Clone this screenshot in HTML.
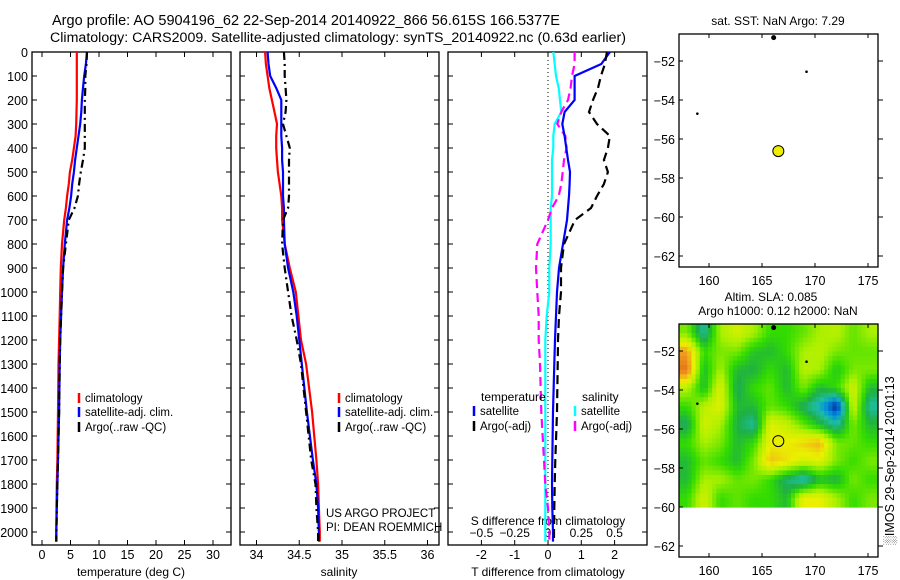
<!DOCTYPE html>
<html><head><meta charset="utf-8"><style>
body{margin:0;background:#fff;}
svg{display:block;font-family:"Liberation Sans",sans-serif;}
</style></head><body>
<svg id="fig" width="900" height="580" xmlns="http://www.w3.org/2000/svg">
<text x="52" y="25" font-size="14.5">Argo profile: AO 5904196_62 22-Sep-2014 20140922_866 56.615S 166.5377E</text>
<text x="50" y="42" font-size="14.2" textLength="576">Climatology: CARS2009. Satellite-adjusted climatology: synTS_20140922.nc (0.63d earlier)</text>
<g id="g"></g>
</svg>
<script>
const depths=[0,50,100,150,200,250,300,350,400,450,500,550,600,650,700,800,900,1000,1100,1200,1300,1500,1700,1800,1900,2000,2040];
const tClim=[6.1,6.1,6.1,6.1,6.1,6.05,6.0,5.9,5.6,5.3,4.9,4.7,4.4,4.2,3.9,3.5,3.3,3.2,3.1,3.0,2.9,2.8,2.7,2.6,2.55,2.5,2.5];
const tSat=[7.9,7.7,7.4,7.2,7.0,6.9,6.7,6.4,6.1,5.8,5.6,5.3,5.1,4.8,4.4,4.0,3.7,3.5,3.35,3.2,3.1,3.0,2.8,2.7,2.6,2.5,2.5];
const tArgo=[7.9,7.8,7.6,7.6,7.5,7.5,7.5,7.5,7.5,7.2,6.8,6.5,6.3,5.7,4.7,4.2,3.7,3.5,3.35,3.2,3.1,3.0,2.8,2.7,2.6,2.55,2.5];
const sClim=[34.1,34.11,34.13,34.15,34.18,34.21,34.24,34.23,34.23,34.24,34.25,34.27,34.29,34.3,34.3,34.33,34.39,34.46,34.49,34.52,34.58,34.65,34.70,34.72,34.73,34.74,34.74];
const sSat=[34.13,34.14,34.16,34.23,34.29,34.29,34.29,34.29,34.3,34.3,34.31,34.31,34.31,34.32,34.32,34.33,34.37,34.43,34.47,34.5,34.53,34.59,34.66,34.7,34.72,34.73,34.73];
const sArgo=[34.32,34.33,34.33,34.34,34.35,34.34,34.31,34.35,34.39,34.38,34.38,34.38,34.38,34.37,34.31,34.3,34.33,34.37,34.41,34.47,34.52,34.58,34.64,34.69,34.7,34.72,34.72];
const dtSat=[1.86,1.6,0.8,0.8,0.8,0.5,0.43,0.5,0.55,0.6,0.66,0.65,0.63,0.6,0.57,0.45,0.33,0.27,0.24,0.21,0.19,0.15,0.13,0.12,0.13,0.15,0.15];
const dtArgo=[1.77,1.71,1.59,1.5,1.35,1.23,1.47,1.86,1.8,1.68,1.8,1.68,1.47,1.29,0.81,0.48,0.39,0.39,0.33,0.3,0.29,0.27,0.22,0.2,0.19,0.18,0.18];
const dsSat=[0.04,0.05,0.06,0.08,0.09,0.1,0.05,0.04,0.04,0.03,0.03,0.03,0.03,0.02,0.02,0.02,0.01,0.01,-0.01,-0.02,-0.02,-0.02,-0.02,-0.02,-0.02,-0.02,-0.02];
const dsArgo=[0.2,0.2,0.18,0.17,0.15,0.1,0.07,0.13,0.14,0.12,0.11,0.1,0.08,0.03,0.0,-0.08,-0.09,-0.08,-0.07,-0.07,-0.06,-0.05,-0.03,-0.02,0.0,0.01,0.01];
const depthTicks=[0,100,200,300,400,500,600,700,800,900,1000,1100,1200,1300,1400,1500,1600,1700,1800,1900,2000];
const tTicks=[0,5,10,15,20,25,30];
const sTicks=[34,34.5,35,35.5,36];
const sTickLabels=["34","34.5","35","35.5","36"];
const dtTicks=[-2,-1,0,1,2];
const dsTicks=[-0.5,-0.25,0,0.25,0.5];
const dsTickLabels=["\u22120.5","\u22120.25","0","0.25","0.5"];
const lonTicks=[160,165,170,175];
const latTicks=[-52,-54,-56,-58,-60,-62];
const dots=[[166.1,-50.8],[169.2,-52.55],[158.9,-54.7]];
const argoPos=[166.54,-56.62];
const sla=[
[0.3,-0.8,0.5,0.8,0.5,0,0,0.2,0.5,0.6,0.2,0.5],
[1.5,0,0.3,0.3,-0.2,-0.3,0,0.5,0.6,0.3,0.2,0.2],
[1.8,-0.3,0.5,-0.3,-0.4,0,-0.3,0.6,0.5,-0.2,0.3,0.3],
[0.6,-0.3,0.9,-0.5,0,0.2,-0.3,0.3,-0.3,0,0.8,-0.3],
[0,0.6,0.9,-0.3,-0.3,0.2,0,-0.5,-1,-2,0.8,-0.8],
[-0.5,0.8,0.5,-0.4,-0.8,0.9,0.7,0.2,-0.3,-0.8,0.3,-0.3],
[0,0.5,0.3,-0.3,0,1.0,1.0,1.2,1.4,0.3,0.2,0],
[-0.3,0.2,0,-0.3,0.3,1.3,1.1,0.8,0.9,0.3,0,0.3],
[-0.3,0.5,0.5,0.2,0.3,0,-0.6,-1,-0.3,-0.4,0.3,0],
[0,0.8,0,0.2,0,0,-0.3,1.0,1.0,0.5,0,0.3]];

const NS="http://www.w3.org/2000/svg";
const G=document.getElementById('g');
function el(t,a,p){const e=document.createElementNS(NS,t);for(const k in a)e.setAttribute(k,a[k]);(p||G).appendChild(e);return e;}
function txt(x,y,s,a,p){const e=el('text',Object.assign({x:x,y:y,'font-size':13},a||{}),p);e.textContent=s;return e;}
const yD=d=>52+d*0.24;
const xT=v=>42+v*5.7, xS=v=>256.5+(v-34)*85.5, xDT=v=>548+v*33.3, xDS=v=>548+v*133.2;
function box(x0,name){const g=el('g',{});
 el('rect',{x:x0,y:52,width:199,height:493,fill:'none',stroke:'#000','stroke-width':1.3},g);
 depthTicks.forEach(d=>{const y=yD(d);el('line',{x1:x0,x2:x0+5,y1:y,y2:y,stroke:'#000'},g);el('line',{x1:x0+199,x2:x0+194,y1:y,y2:y,stroke:'#000'},g);});
 return g;}
function xticks(g,vals,f,labels,y,name){vals.forEach((v,i)=>{const x=f(v);el('line',{x1:x,x2:x,y1:545,y2:540,stroke:'#000'},g);el('line',{x1:x,x2:x,y1:52,y2:57,stroke:'#000'},g);
 const t=txt(x,y,labels[i],{'text-anchor':'middle','font-size':12.5},g);});}
function line(g,vals,f,color,dash,name){const pts=vals.map((v,i)=>f(v).toFixed(1)+','+yD(depths[i]).toFixed(1)).join(' ');
 const p=el('polyline',{points:pts,fill:'none',stroke:color,'stroke-width':2.2},g);if(dash)p.setAttribute('stroke-dasharray',dash);
 }
function leg(g,x,y,color,label,dash,name){el('line',{x1:x,x2:x,y1:y-9,y2:y+1,stroke:color,'stroke-width':2.5},g);
 const t=txt(x+6,y,label,{'font-size':11.5},g);}

// Panel 1
const p1=box(32,'temperature-panel');
depthTicks.forEach(d=>{const t=txt(28,yD(d)+5,String(d),{'text-anchor':'end','font-size':12.5},p1);});
xticks(p1,tTicks,xT,tTicks.map(String),559,'temperature-tick-label');
const xl1=txt(131,576,'temperature (deg C)',{'text-anchor':'middle','font-size':12},p1);
line(p1,tClim,xT,'#f00',null,'temp-climatology-line');
line(p1,tSat,xT,'#00f',null,'temp-satellite-line');
line(p1,tArgo,xT,'#000','8,4,2,4','temp-argo-line');
leg(p1,79,402,'#f00','climatology','','legend-climatology');
leg(p1,79,416,'#00f','satellite-adj. clim.','','legend-satellite');
leg(p1,79,431,'#000','Argo(..raw -QC)','','legend-argo');

// Panel 2
const p2=box(240,'salinity-panel');
xticks(p2,sTicks,xS,sTickLabels,559,'salinity-tick-label');
const xl2=txt(339,576,'salinity',{'text-anchor':'middle','font-size':12},p2);
line(p2,sClim,xS,'#f00',null,'sal-climatology-line');
line(p2,sSat,xS,'#00f',null,'sal-satellite-line');
line(p2,sArgo,xS,'#000','8,4,2,4','sal-argo-line');
leg(p2,339,402,'#f00','climatology','','legend-climatology-2');
leg(p2,339,416,'#00f','satellite-adj. clim.','','legend-satellite-2');
leg(p2,339,431,'#000','Argo(..raw -QC)','','legend-argo-2');
const c1=txt(326,517,'US ARGO PROJECT',{'font-size':11.5},p2);
const c2=txt(326,531,'PI: DEAN ROEMMICH',{'font-size':11.5},p2);

// Panel 3
const p3=box(448,'difference-panel');
el('line',{x1:548,x2:548,y1:52,y2:545,stroke:'#000','stroke-dasharray':'1,3'},p3);
xticks(p3,dtTicks,xDT,dtTicks.map(String),559,'t-diff-tick-label');
dsTicks.forEach((v,i)=>{const t=txt(xDS(v),537,dsTickLabels[i],{'text-anchor':'middle','font-size':12},p3);});
const st=txt(548,525,'S difference from climatology',{'text-anchor':'middle','font-size':12},p3);
const xl3=txt(548,576,'T difference from climatology',{'text-anchor':'middle','font-size':12},p3);
line(p3,dsSat,xDS,'#0ff',null,'s-diff-satellite-line');
line(p3,dsArgo,xDS,'#f0f','9,5','s-diff-argo-line');
line(p3,dtSat,xDT,'#00f',null,'t-diff-satellite-line');
line(p3,dtArgo,xDT,'#000','9,5','t-diff-argo-line');
const lt=txt(481,401,'temperature',{'font-size':12},p3);
const ls=txt(582,401,'salinity',{'font-size':12},p3);
leg(p3,474,415,'#00f','satellite','','legend-t-satellite');
leg(p3,474,430,'#000','Argo(-adj)','','legend-t-argo');
leg(p3,575,415,'#0ff','satellite','','legend-s-satellite');
leg(p3,575,430,'#f0f','Argo(-adj)','','legend-s-argo');

// Maps
function mapGroup(name){const g=el('g',{});return g;}
const mx=v=>709+(v-160)*10.6;
function my(top){return v=>top+27+(-52-v)*19.5;}
function drawMapFrame(g,top,myF){
 el('rect',{x:679,y:top,width:199,height:233,fill:'none',stroke:'#000','stroke-width':1.3},g);
 lonTicks.forEach(v=>{const x=mx(v);el('line',{x1:x,x2:x,y1:top,y2:top+4,stroke:'#000'},g);el('line',{x1:x,x2:x,y1:top+233,y2:top+229,stroke:'#000'},g);
  const t=txt(x,top+251,String(v),{'text-anchor':'middle','font-size':12.5},g);});
 latTicks.forEach(v=>{const y=myF(v);el('line',{x1:679,x2:683,y1:y,y2:y,stroke:'#000'},g);el('line',{x1:878,x2:883,y1:y,y2:y,stroke:'#000'},g);
  const t=txt(675,y+5,String(v).replace('-','\u2212'),{'text-anchor':'end','font-size':12.5},g);});
}
const m1=mapGroup('sst-map');const my1=my(34);
dots.forEach((d,i)=>{const c=el('circle',{cx:mx(d[0]),cy:my1(d[1]),r:i===0?2.5:1.3,fill:'#000'},m1);});
const a1=el('circle',{cx:mx(argoPos[0]),cy:my1(argoPos[1]),r:5.5,fill:'#ee0',stroke:'#000'},m1);
drawMapFrame(m1,34,my1);
const mt1=txt(778,25,'sat. SST: NaN Argo: 7.29',{'text-anchor':'middle','font-size':12},m1);

const m2=mapGroup('sla-map');const my2=my(324);
const stops=[[-2,[0,30,150]],[-1.3,[0,140,220]],[-0.8,[30,190,160]],[-0.4,[30,175,70]],[0,[50,220,0]],[0.5,[170,240,0]],[1,[235,240,0]],[1.5,[240,160,30]],[2,[220,90,20]]];
function cmap(v){for(let i=0;i<stops.length-1;i++){const a=stops[i],b=stops[i+1];if(v<=b[0]){const t=Math.max(0,(v-a[0])/(b[0]-a[0]));return 'rgb('+a[1].map((c,k)=>Math.round(c+(b[1][k]-c)*t)).join(',')+')';}}return 'rgb(220,90,20)';}
const R=sla.length,C=sla[0].length,UP=4;
function samp(r,c){r=Math.max(0,Math.min(R-1,r));c=Math.max(0,Math.min(C-1,c));const r0=Math.floor(r),c0=Math.floor(c),r1=Math.min(R-1,r0+1),c1=Math.min(C-1,c0+1),fr=r-r0,fc=c-c0;
 return sla[r0][c0]*(1-fr)*(1-fc)+sla[r0][c1]*(1-fr)*fc+sla[r1][c0]*fr*(1-fc)+sla[r1][c1]*fr*fc;}
const cw=199/(C*UP), ch=(507-324)/(R*UP);
for(let i=0;i<R*UP;i++)for(let j=0;j<C*UP;j++){const v=samp((i+0.5)/UP-0.5,(j+0.5)/UP-0.5);
 const e=el('rect',{x:(679+j*cw).toFixed(2),y:(324+i*ch).toFixed(2),width:(cw+0.6).toFixed(2),height:(ch+0.6).toFixed(2),fill:cmap(v)},m2);
 
 }
dots.forEach((d,i)=>{const c=el('circle',{cx:mx(d[0]),cy:my2(d[1]),r:i===0?2.5:1.3,fill:'#000'},m2);});
const a2=el('circle',{cx:mx(argoPos[0]),cy:my2(argoPos[1]),r:5.5,fill:'none',stroke:'#000'},m2);
drawMapFrame(m2,324,my2);
const mt2=txt(771,301,'Altim. SLA: 0.085',{'text-anchor':'middle','font-size':12},m2);
const mt3=txt(778,315,'Argo h1000: 0.12 h2000: NaN',{'text-anchor':'middle','font-size':12},m2);
const im=txt(0,0,'\u2591IMOS 29-Sep-2014 20:01:13',{'font-size':12.5,transform:'translate(894,545) rotate(-90)'},m2);
</script>
</body></html>
